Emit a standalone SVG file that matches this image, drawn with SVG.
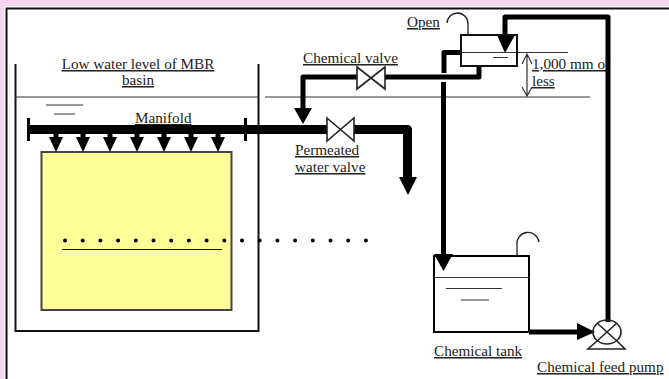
<svg xmlns="http://www.w3.org/2000/svg" width="669" height="379" viewBox="0 0 669 379">
<style>
text{font-family:"Liberation Serif","Times New Roman",serif;font-size:15.2px;fill:#222;text-decoration:underline}
.thin{fill:none;stroke:#333;stroke-width:1.2}
.med{fill:none;stroke:#111;stroke-width:2}
.pipe{fill:none;stroke:#000;stroke-width:5;stroke-linejoin:round}
.main{fill:none;stroke:#000;stroke-width:9;stroke-linejoin:round}
.valve{fill:#fff;stroke:#222;stroke-width:1.6}
.ah{fill:#000}
</style>
<defs>
<path id="drop" class="ah" d="M-2.500-3H2.500V0H7L0 15-7 0H-2.500Z"/>
</defs>
<rect width="669" height="379" fill="#f5d5f0"/>
<rect x="4" y="6" width="665" height="373" fill="#fff"/>
<path d="M6.500 379V8.500H669" fill="none" stroke="#111" stroke-width="2"/>
<g id="basin">
<path class="med" d="M15.500 64V331H258.500V64"/>
<path class="thin" d="M15 97H258M265 97H590"/>
<path class="thin" d="M46 105H83M54 114H75"/>
<text x="138" y="69" text-anchor="middle">Low water level of MBR</text>
<text x="138" y="85" text-anchor="middle">basin</text>
</g>
<g id="membrane">
<rect x="41.500" y="152" width="190" height="158" fill="#ffff99" stroke="#444" stroke-width="2"/>
<path d="M62 249.500H222" stroke="#111" stroke-width="1.200"/>
<path d="M65 240.500H367" fill="none" stroke="#000" stroke-width="4" stroke-linecap="round" stroke-dasharray="0 17.700"/>
</g>
<g id="manifold">
<text x="135" y="123">Manifold</text>
</g>
<g id="chemical-valve-label"><text x="303" y="63">Chemical valve</text></g>
<g id="permeated-label">
<text x="295" y="155">Permeated</text>
<text x="295" y="172">water valve</text>
</g>
<g id="dimension">
<path class="thin" d="M517 52.500H568"/>
<text x="532" y="69">1,000 mm or</text>
<text x="532" y="86">less</text>
<path class="thin" d="M527 54V96M522 64L527 54 532 64M522 87L527 96 532 87"/>
</g>
<g id="connectors">
<path class="main" d="M28 129.500H328M353 129.500H407.500V178"/>
<path d="M28.500 118V141M245.500 118V141" stroke="#000" stroke-width="3"/>
<use href="#drop" x="56" y="137"/>
<use href="#drop" x="83" y="137"/>
<use href="#drop" x="110" y="137"/>
<use href="#drop" x="137" y="137"/>
<use href="#drop" x="164" y="137"/>
<use href="#drop" x="191" y="137"/>
<use href="#drop" x="218" y="137"/>
<path class="ah" d="M399 177H417L408 195Z"/>
<path class="pipe" d="M479 66V77H384M358 77H303V110"/>
<path class="ah" d="M294 108H312L303 124Z"/>
<path class="pipe" d="M461 52.500H444V73"/>
<path class="pipe" d="M443.500 82V262"/>
<path class="ah" d="M434 254H453L443.500 271Z"/>
<path class="pipe" d="M505 36V17H608V322"/>
<path class="ah" d="M497 35H515L505 53Z"/>
<path class="pipe" d="M529 332H580"/>
<path class="ah" d="M577 323L595 332 577 340Z"/>
</g>
<g id="open-tank">
<rect x="461" y="35" width="56" height="31" fill="none" stroke="#111" stroke-width="2"/>
<path class="thin" d="M461 52.500H517M493 57.500H508"/>
<path d="M468 35V24A10.500 10.500 0 0 0 447 23" fill="none" stroke="#222" stroke-width="1.300"/>
<text x="407" y="27">Open</text>
</g>
<g id="chemical-valve">
<path class="valve" d="M357 67L385 89V67L357 89Z"/>
</g>
<g id="permeated-valve">
<path class="valve" d="M327 118L354 141V118L327 141Z"/>
</g>
<g id="chemical-tank">
<rect x="434" y="256" width="95" height="76" fill="none" stroke="#000" stroke-width="2"/>
<path class="thin" d="M434 277.500H529M446 288.500H502M461 300H489"/>
<path d="M517 256V245A10.500 10.500 0 0 1 539 242" fill="none" stroke="#222" stroke-width="1.300"/>
<text x="434" y="356">Chemical tank</text>
</g>
<g id="pump">
<ellipse cx="607" cy="332" rx="14" ry="12" fill="none" stroke="#222" stroke-width="1.600"/>
<path d="M597 323L617 341M617 323L597 341M597 341L588 349H625L617 341" fill="none" stroke="#222" stroke-width="1.600"/>
<text x="537" y="372">Chemical feed pump</text>
</g>
</svg>
